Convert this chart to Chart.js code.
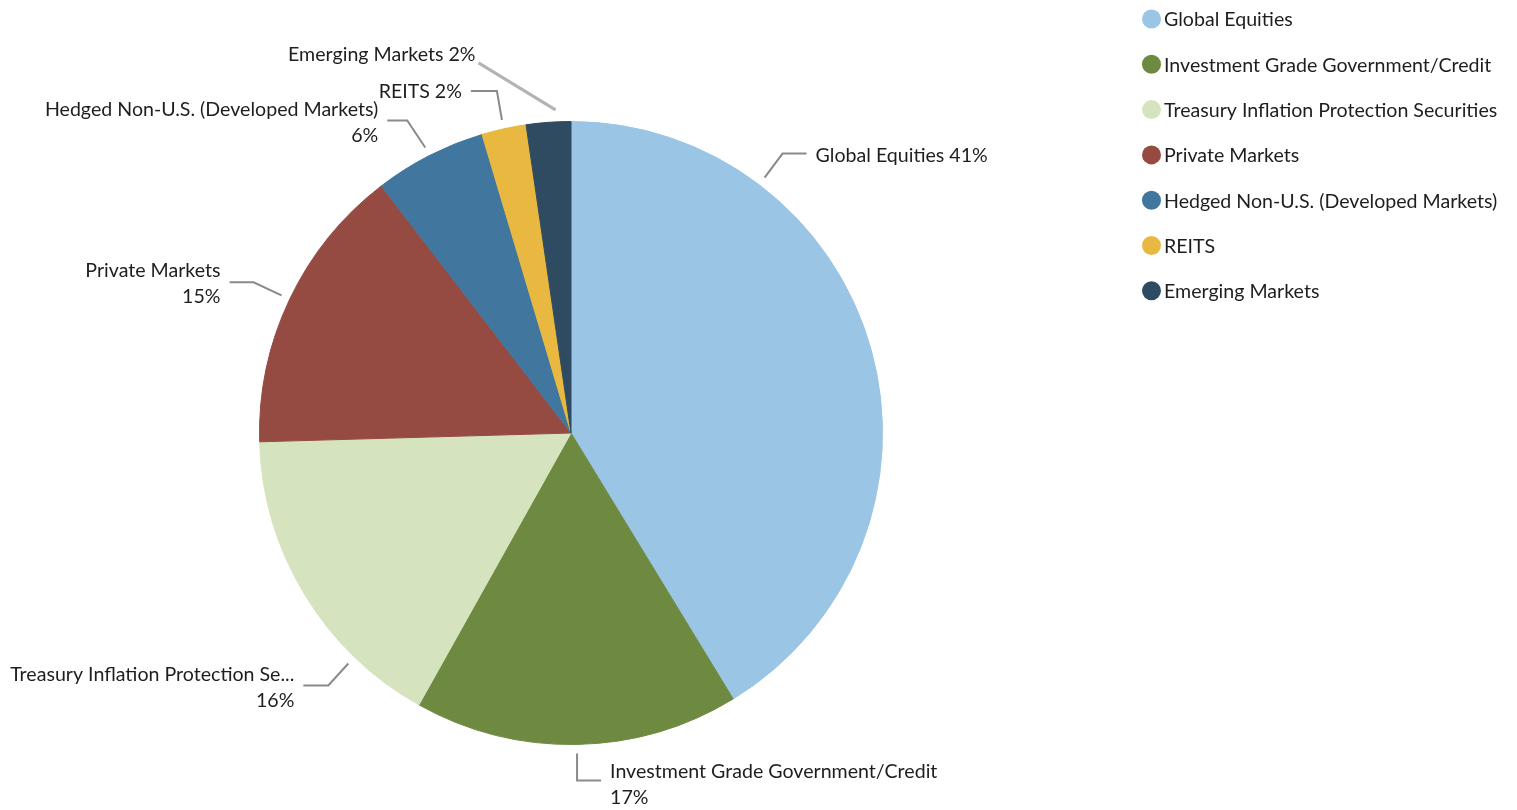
<!DOCTYPE html>
<html>
<head>
<meta charset="utf-8">
<title>Asset Allocation</title>
<script src="https://cdn.jsdelivr.net/npm/chart.js@4.4.1/dist/chart.umd.min.js"></script>
<style>
  html, body { margin: 0; padding: 0; background: #fff; }
  #wrap { width: 1517px; height: 810px; }
</style>
</head>
<body>
<div id="wrap"><canvas id="allocChart"></canvas></div>
<script>
const categories = [
    'Global Equities',
    'Investment Grade Government/Credit',
    'Treasury Inflation Protection Securities',
    'Private Markets',
    'Hedged Non-U.S. (Developed Markets)',
    'REITS',
    'Emerging Markets'
];
const allocation = [41.2, 16.8, 16.4, 15.0, 5.8, 2.3, 2.3];
const sliceColors = ['#9bc5e4', '#6e8a40', '#d5e3bf', '#954a42', '#41779e', '#e8b840', '#2f4b62'];

const FONT = '19.6px Lato';
const TEXT_COLOR = '#1e1e1e';

// leader line per slice: where on the rim it starts (fraction of slice), elbow offset,
// horizontal tail (+ right / - left), and how the text block is set
const labelLayout = [
    { at: 0.25, elbow: [18, -24], tail: 24, split: false, dy: 2 },
    { at: 0.5, elbow: [0, 27], tail: 24, split: true, dy: 4 },
    { at: 0.25, elbow: [-20, 22], tail: -25, split: true, dy: 2 },
    { at: 0.5, elbow: [-28, -13], tail: -24, split: true, dy: 1 },
    { at: 0.5, elbow: [-18, -27], tail: -20, split: true, dy: 2 },
    { at: 0.5, elbow: [-5, -29], tail: -26, split: false, dy: 1 },
    { at: 0.67, elbow: [-77, -47], tail: 0, split: false, dy: -8, light: true }
];

function fitText(ctx, text, maxWidth) {
    if (ctx.measureText(text).width <= maxWidth) return text;
    let s = text;
    while (s.length > 1 && ctx.measureText(s + '...').width > maxWidth) {
        s = s.slice(0, -1);
    }
    return s.trimEnd() + '...';
}

const sliceLabels = {
    id: 'sliceLabels',
    afterDraw(chart) {
        const ctx = chart.ctx;
        const meta = chart.getDatasetMeta(0);
        const values = chart.data.datasets[0].data;
        const total = values.reduce((a, b) => a + b, 0);

        ctx.save();
        ctx.font = FONT;
        ctx.textBaseline = 'middle';
        ctx.lineCap = 'butt';

        meta.data.forEach((arc, i) => {
            const lay = labelLayout[i];
            const p = arc.getProps(['x', 'y', 'startAngle', 'endAngle', 'outerRadius'], true);
            const a = p.startAngle + (p.endAngle - p.startAngle) * lay.at;
            const r = p.outerRadius + (lay.light ? 12 : 9);
            const x0 = p.x + Math.cos(a) * r;
            const y0 = p.y + Math.sin(a) * r;
            const x1 = x0 + lay.elbow[0];
            const y1 = y0 + lay.elbow[1];
            const x2 = x1 + lay.tail;

            ctx.strokeStyle = lay.light ? '#b3b3b3' : '#8a8a8a';
            ctx.lineWidth = lay.light ? 3 : 2;
            ctx.beginPath();
            ctx.moveTo(x0, y0);
            ctx.lineTo(x1, y1);
            if (lay.tail) ctx.lineTo(x2, y1);
            ctx.stroke();

            const right = lay.tail > 0;
            const tx = lay.tail ? x2 + (right ? 9 : -9) : x1 - 3;
            const ty = y1 + lay.dy;
            const pct = Math.round(values[i] / total * 100) + '%';
            let name = chart.data.labels[i];

            ctx.fillStyle = TEXT_COLOR;
            ctx.textAlign = right ? 'left' : 'right';
            if (!right) name = fitText(ctx, name, tx - 10);
            if (lay.split) {
                ctx.fillText(name, tx, ty - 13);
                ctx.fillText(pct, tx, ty + 13);
            } else {
                ctx.fillText(name + ' ' + pct, tx, ty);
            }
        });
        ctx.restore();
    }
};

const sideLegend = {
    id: 'sideLegend',
    afterDraw(chart) {
        const ctx = chart.ctx;
        const colors = chart.data.datasets[0].backgroundColor;
        ctx.save();
        ctx.font = FONT;
        ctx.textBaseline = 'middle';
        ctx.textAlign = 'left';
        chart.data.labels.forEach((label, i) => {
            const y = 19 + i * 45.3;
            ctx.fillStyle = colors[i];
            ctx.beginPath();
            ctx.arc(1151.5, y, 9.5, 0, Math.PI * 2);
            ctx.fill();
            ctx.fillStyle = TEXT_COLOR;
            ctx.fillText(label, 1164, y + 1);
        });
        ctx.restore();
    }
};

const ctx = document.getElementById('allocChart').getContext('2d');
const allocChart = new Chart(ctx, {
    type: 'pie',
    data: {
        labels: categories,
        datasets: [{
            data: allocation,
            backgroundColor: sliceColors,
            borderColor: sliceColors,
            borderWidth: 1
        }]
    },
    options: {
        responsive: true,
        maintainAspectRatio: false,
        animation: false,
        layout: {
            padding: { top: 121, bottom: 65, left: 0, right: 375 }
        },
        plugins: {
            legend: { display: false },
            tooltip: { enabled: false }
        }
    },
    plugins: [sliceLabels, sideLegend]
});
</script>
</body>
</html>
